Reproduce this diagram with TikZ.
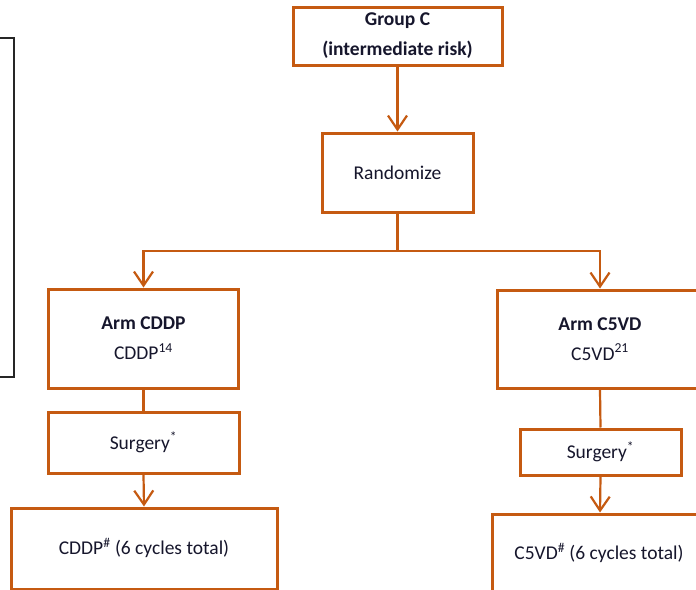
\documentclass[tikz,border=0pt]{standalone}
\usepackage{fontspec}
\setmainfont{Carlito}
\usetikzlibrary{arrows.meta}
\definecolor{orng}{RGB}{197,90,17}
\definecolor{txt}{RGB}{22,22,44}
\begin{document}
\begin{tikzpicture}[x=1pt,y=-1pt,
  box/.style={draw=orng, line width=3pt, inner sep=0pt, align=center, text=txt,
    font=\fontsize{19.5}{30}\selectfont},
  conn/.style={draw=orng, line width=2.2pt},
  arr/.style={conn, -{Straight Barb[length=14pt,width=19pt]}},
  lbl/.style={inner sep=0pt, text=txt, font=\fontsize{19.5}{30}\selectfont}]
\clip (0,0) rectangle (696,589);
\fill[white] (0,0) rectangle (696,589);
% black frame at left
\draw[black!85, line width=1.4pt] (-5,38) -- (14,38) -- (14,377) -- (-5,377);
% nodes
\node[box, minimum width=209pt, minimum height=58pt] (g) at (397.5,36)
  {\textbf{Group C}\\\textbf{(intermediate risk)}};
\node[box, minimum width=151pt, minimum height=79pt] (r) at (397.5,172.5) {Randomize};
\node[box, minimum width=190pt, minimum height=99pt] (aL) at (143.5,338.5)
  {\textbf{Arm CDDP}\\CDDP\textsuperscript{14}};
\node[box, minimum width=206pt, minimum height=98pt] (aR) at (600,339)
  {\textbf{Arm C5VD}\\C5VD\textsuperscript{21}};
\node[box, minimum width=191pt, minimum height=61pt] (sL) at (143.5,442.5) {Surgery\textsuperscript{*}};
\node[box, minimum width=161pt, minimum height=46pt] (sR) at (600.5,452) {Surgery\textsuperscript{*}};
\node[box, minimum width=266pt, minimum height=81pt] (cL) at (144,548.5) {};
\node[box, minimum width=216pt, minimum height=78pt] (cR) at (600,553) {};
\node[lbl] (tL) at (144,548) {CDDP\textsuperscript{\#} (6 cycles total)};
\node[lbl] (tR) at (599,553) {C5VD\textsuperscript{\#} (6 cycles total)};
% connectors
\coordinate (br) at (397.5,251);
\draw[arr] (g.south) -- (r.north);
\draw[conn] (r.south) -- (br);
\draw[arr] (br) -| (aL.north);
\draw[arr] (br) -| (aR.north);
\draw[conn] (aL.south) -- (sL.north);
\draw[arr] (sL.south) -- (cL.north);
\draw[conn] (aR.south) -- (sR.north);
\draw[arr] (sR.south) -- (cR.north);
\end{tikzpicture}
\end{document}
